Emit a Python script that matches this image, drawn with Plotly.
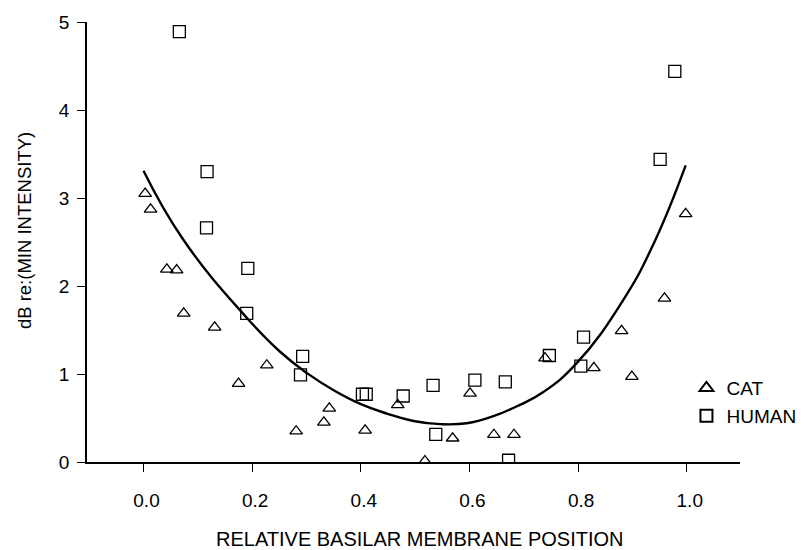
import plotly.graph_objects as go

# ---- data ----
cat_x = [0.003, 0.013, 0.043, 0.061, 0.074, 0.131, 0.175, 0.227, 0.281, 0.332,
         0.342, 0.408, 0.468, 0.518, 0.569, 0.601, 0.645, 0.682, 0.739, 0.829,
         0.880, 0.899, 0.959, 0.998]
cat_y = [3.05, 2.87, 2.19, 2.18, 1.69, 1.53, 0.89, 1.10, 0.35, 0.45,
         0.61, 0.36, 0.65, 0.01, 0.27, 0.78, 0.31, 0.31, 1.18, 1.07,
         1.49, 0.97, 1.86, 2.82]

human_x = [0.066, 0.117, 0.116, 0.192, 0.190, 0.293, 0.289, 0.403, 0.410, 0.478,
           0.533, 0.538, 0.610, 0.666, 0.672, 0.747, 0.805, 0.810, 0.951, 0.978]
human_y = [4.89, 3.30, 2.66, 2.20, 1.69, 1.20, 0.99, 0.77, 0.77, 0.75,
           0.87, 0.315, 0.93, 0.91, 0.02, 1.21, 1.09, 1.42, 3.44, 4.44]

fit_x = [0.0, 0.074, 0.19, 0.252, 0.301, 0.350, 0.399, 0.448, 0.497, 0.546,
         0.595, 0.644, 0.693, 0.736, 0.797, 0.883, 0.939, 0.998]
fit_y = [3.31, 2.52, 1.64, 1.25, 1.01, 0.815, 0.66, 0.55, 0.466, 0.43,
         0.44, 0.52, 0.65, 0.795, 1.12, 1.84, 2.48, 3.37]

x_ticks = [0.0, 0.2, 0.4, 0.6, 0.8, 1.0]
x_ticklabels = ["0.0", "0.2", "0.4", "0.6", "0.8", "1.0"]
y_ticks = [0, 1, 2, 3, 4, 5]

FONT = "Liberation Sans, Arial, sans-serif"

fig = go.Figure()

fig.add_trace(go.Scatter(
    x=fit_x, y=fit_y, mode="lines",
    line=dict(color="black", width=2.4, shape="spline", smoothing=1.3),
    showlegend=False, hoverinfo="skip"))

fig.add_trace(go.Scatter(
    x=cat_x, y=cat_y, mode="markers", name="CAT",
    marker=dict(symbol="triangle-up-open", size=11, color="black",
                line=dict(color="black", width=1.3))))

fig.add_trace(go.Scatter(
    x=human_x, y=human_y, mode="markers", name="HUMAN",
    marker=dict(symbol="square-open", size=12, color="black",
                line=dict(color="black", width=1.3))))

# figure is a little wider than the window so the legend never pushes the margins;
# the page margin is removed and overflow hidden by the post script below
fig.update_layout(
    width=840, height=550,
    margin=dict(l=87, r=100, t=22, b=88, autoexpand=False),
    paper_bgcolor="white", plot_bgcolor="white",
    font=dict(family=FONT, color="black", size=19),
    legend=dict(x=0.918, y=0.211, xanchor="left", yanchor="top",
                bgcolor="rgba(0,0,0,0)", font=dict(size=19, family=FONT),
                itemsizing="constant", tracegroupgap=0),
    xaxis=dict(range=[-0.104, 1.098], tickvals=x_ticks, ticktext=x_ticklabels,
               showgrid=False, zeroline=False, showline=True, automargin=False,
               linecolor="black", linewidth=1.5,
               ticks="outside", ticklen=8, tickwidth=1.4, tickcolor="black",
               ticklabelstandoff=12, ticklabelshift=3,
               tickfont=dict(size=19, family=FONT)),
    yaxis=dict(range=[0, 5], tickvals=y_ticks,
               showgrid=False, zeroline=False, showline=True, automargin=False,
               linecolor="black", linewidth=1.5,
               ticks="outside", ticklen=8, tickwidth=1.4, tickcolor="black",
               ticklabelstandoff=4,
               tickfont=dict(size=19, family=FONT)),
    annotations=[
        dict(text="RELATIVE BASILAR MEMBRANE POSITION", xref="paper", yref="paper",
             x=0.510, y=-0.176, xanchor="center", yanchor="middle",
             showarrow=False, font=dict(size=20, family=FONT)),
        dict(text="dB re:(MIN INTENSITY)", xref="paper", yref="paper",
             x=-0.0965, y=0.527, xanchor="center", yanchor="middle", textangle=-90,
             showarrow=False, font=dict(size=18.5, family=FONT)),
    ],
)

post = ("document.body.style.margin='0';"
        "document.body.style.overflow='hidden';"
        "document.documentElement.style.overflow='hidden';")

fig.write_html("out.html", config={"displayModeBar": False}, post_script=post)
